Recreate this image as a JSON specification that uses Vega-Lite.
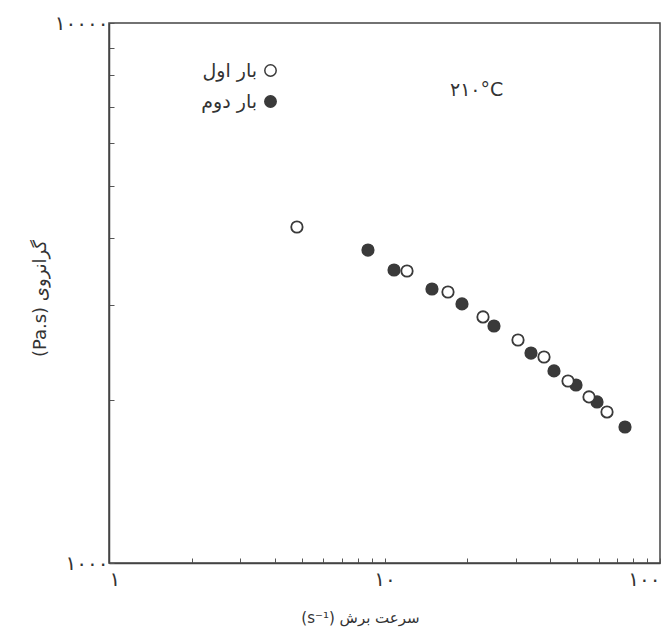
{
  "$schema": "https://vega.github.io/schema/vega-lite/v6.json",
  "width": 551,
  "height": 540,
  "autosize": {"type": "none"},
  "padding": {"left": 109, "top": 23, "right": 7, "bottom": 68},
  "background": "white",
  "config": {
    "view": {"stroke": "#444", "strokeWidth": 1.5},
    "font": "DejaVu Sans"
  },
  "layer": [
    {
      "data": {
        "values": [
          {"rate": 8.71, "viscosity": 3798, "run": "بار دوم"},
          {"rate": 10.83, "viscosity": 3488, "run": "بار دوم"},
          {"rate": 14.87, "viscosity": 3217, "run": "بار دوم"},
          {"rate": 19.11, "viscosity": 3018, "run": "بار دوم"},
          {"rate": 34.02, "viscosity": 2448, "run": "بار دوم"},
          {"rate": 41.23, "viscosity": 2268, "run": "بار دوم"},
          {"rate": 49.56, "viscosity": 2136, "run": "بار دوم"},
          {"rate": 59.07, "viscosity": 1987, "run": "بار دوم"},
          {"rate": 74.64, "viscosity": 1786, "run": "بار دوم"},
          {"rate": 4.81, "viscosity": 4190, "run": "بار اول"},
          {"rate": 12.07, "viscosity": 3473, "run": "بار اول"},
          {"rate": 17.0, "viscosity": 3176, "run": "بار اول"},
          {"rate": 22.78, "viscosity": 2855, "run": "بار اول"},
          {"rate": 30.52, "viscosity": 2588, "run": "بار اول"},
          {"rate": 37.93, "viscosity": 2407, "run": "بار اول"},
          {"rate": 46.36, "viscosity": 2173, "run": "بار اول"},
          {"rate": 55.25, "viscosity": 2030, "run": "بار اول"},
          {"rate": 64.22, "viscosity": 1904, "run": "بار اول"},
          {"rate": 24.97, "viscosity": 2747, "run": "بار دوم"}
        ]
      },
      "mark": {"type": "circle", "size": 130, "stroke": "#3a3a3a", "strokeWidth": 1.8, "opacity": 1},
      "encoding": {
        "x": {
          "field": "rate",
          "type": "quantitative",
          "scale": {"type": "log", "domain": [1, 100], "nice": false},
          "axis": {
            "values": [1, 2, 3, 4, 5, 6, 7, 8, 9, 10, 20, 30, 40, 50, 60, 70, 80, 90, 100],
            "labelExpr": "datum.value == 1 ? '۱' : datum.value == 10 ? '۱۰' : datum.value == 100 ? '۱۰۰' : ''",
            "tickSize": -5,
            "tickColor": "#555",
            "domainColor": "#444",
            "domainWidth": 1.5,
            "labelPadding": 11,
            "labelFontSize": 20,
            "labelColor": "#333",
            "labelFlush": true,
            "labelOverlap": false,
            "grid": false,
            "title": "(s⁻¹) سرعت برش",
            "titleFontSize": 15,
            "titleFontWeight": "normal",
            "titleColor": "#333",
            "titleX": 251,
            "titleY": 54,
            "titleBaseline": "middle"
          }
        },
        "y": {
          "field": "viscosity",
          "type": "quantitative",
          "scale": {"type": "log", "domain": [1000, 10000], "nice": false},
          "axis": {
            "values": [1000, 2000, 3000, 4000, 5000, 6000, 7000, 8000, 9000, 10000],
            "labelExpr": "datum.value == 1000 ? '۱۰۰۰' : datum.value == 10000 ? '۱۰۰۰۰' : ''",
            "tickSize": -5,
            "tickColor": "#555",
            "domainColor": "#444",
            "domainWidth": 1.5,
            "labelPadding": 6,
            "labelFontSize": 20,
            "labelColor": "#333",
            "labelFlush": false,
            "labelOverlap": false,
            "grid": false,
            "title": "(Pa.s) گرانروی",
            "titleFontSize": 18,
            "titleFontWeight": "normal",
            "titleColor": "#333",
            "titleX": -69,
            "titleY": 275,
            "titleBaseline": "middle"
          }
        },
        "fill": {
          "field": "run",
          "type": "nominal",
          "scale": {"domain": ["بار اول", "بار دوم"], "range": ["white", "#3a3a3a"]},
          "legend": {
            "orient": "none",
            "legendX": 152,
            "legendY": 38,
            "title": null,
            "padding": 0,
            "symbolType": "circle",
            "symbolSize": 130,
            "symbolStrokeColor": "#3a3a3a",
            "symbolStrokeWidth": 1.5,
            "labelAlign": "right",
            "labelOffset": -23,
            "labelFontSize": 19,
            "labelColor": "#333",
            "rowPadding": 11
          }
        }
      }
    },
    {
      "data": {"values": [{"rate": 21.6, "viscosity": 7520, "label": "۲۱۰°C"}]},
      "mark": {"type": "text", "fontSize": 19, "color": "#333", "baseline": "middle"},
      "encoding": {
        "x": {"field": "rate", "type": "quantitative"},
        "y": {"field": "viscosity", "type": "quantitative"},
        "text": {"field": "label"}
      }
    }
  ]
}
